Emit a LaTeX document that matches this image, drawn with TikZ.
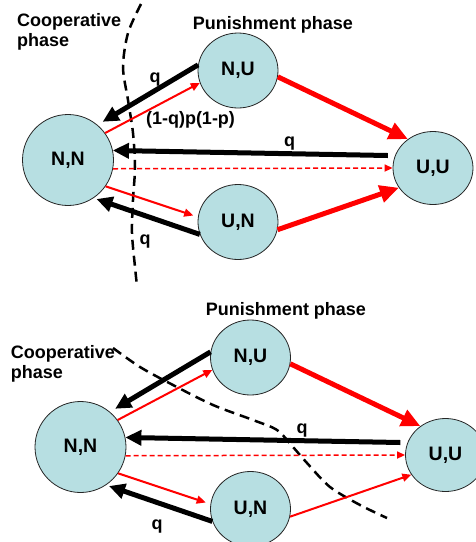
\documentclass[tikz,border=0pt]{standalone}
\usepackage{fontspec}
\setmainfont{Liberation Sans}
\usetikzlibrary{arrows.meta,shapes.geometric}
\definecolor{stateblue}{RGB}{183,223,226}
\definecolor{dfred}{RGB}{255,0,0}
\tikzstyle{state} = [ellipse, draw=black!85, line width=0.8pt, fill=stateblue, minimum width=80pt, minimum height=75pt, inner sep=0pt, font=\fontsize{19.5}{21}\selectfont\bfseries]
\tikzstyle{bigstate} = [state, minimum width=91pt, minimum height=91pt]
\tikzstyle{back} = [line width=5pt, black, -{Triangle[length=16pt,width=15pt]}]
\tikzstyle{punish} = [line width=5pt, dfred, -{Triangle[length=19pt,width=17pt]}]
\tikzstyle{move} = [line width=2pt, dfred, -{Triangle[length=9pt,width=8pt]}]
\tikzstyle{stay} = [line width=1.5pt, dfred, dash pattern=on 5pt off 3pt, -{Triangle[length=8pt,width=7pt]}]
\tikzstyle{border} = [line width=2.5pt, dash pattern=on 10pt off 6pt]
\tikzstyle{lbl} = [font=\fontsize{18}{20}\selectfont\bfseries, inner sep=0pt]

\begin{document}
\begin{tikzpicture}[x=1pt, y=-1pt]
    \useasboundingbox (0,0) rectangle (475,542);

    % Top: phase border
    \draw[border] plot[smooth] coordinates {(141,4) (128,33) (123,67) (128,100) (133,133) (135,167) (133,200) (132,233) (135,267) (137,286)};

    % Top: states
    \node[bigstate] (nn) at (68,160) {N,N};
    \node[state] (nu) at (238,70.5) {N,U};
    \node[state] (un) at (238,222) {U,N};
    \node[state, minimum height=73pt] (uu) at (433,168) {U,U};

    % Top: transitions
    \draw[back, shorten >=6pt] (nu.172) -- (nn.50);
    \draw[move] (nn.36) -- (nu.198);
    \draw[back, shorten <=7pt] (uu.162) -- (nn.12);
    \draw[stay] (nn.-11) -- (uu.west);
    \draw[move, shorten >=5pt] (nn.-35) -- (un.173);
    \draw[back, shorten >=3pt] (un.198) -- (nn.-56);
    \draw[punish] (nu.-9.5) -- (uu.131);
    \draw[punish] (un.-11.6) -- (uu.210);

    % Top: labels
    \node[lbl, anchor=base west, align=left] (coop) at (17,46.7) {Cooperative\\phase};
    \node[lbl, anchor=base] (pun) at (273,29) {Punishment phase};
    \node[lbl] (qa) at (155,79.5) {q};
    \node[lbl] (prob) at (190.5,120) {(1-q)p(1-p)};
    \node[lbl] (qb) at (289.5,144) {q};
    \node[lbl] (qc) at (145,241.5) {q};

    % Bottom: phase border
    \draw[border] plot[smooth] coordinates {(113,348) (140,367) (173,385) (213,405) (253,420) (277,430) (293,447) (307,463) (330,487) (360,505) (387,518)};

    % Bottom: states
    \node[bigstate] (nn2) at (80.5,447) {N,N};
    \node[state] (nu2) at (250.5,357.5) {N,U};
    \node[state] (un2) at (250.5,509) {U,N};
    \node[state, minimum height=73pt] (uu2) at (445.5,455) {U,U};

    % Bottom: transitions
    \draw[back, shorten >=6pt] (nu2.172) -- (nn2.50);
    \draw[move] (nn2.36) -- (nu2.198);
    \draw[back, shorten <=7pt] (uu2.162) -- (nn2.12);
    \draw[stay] (nn2.-11) -- (uu2.west);
    \draw[move, shorten >=5pt] (nn2.-35) -- (un2.173);
    \draw[back, shorten >=3pt] (un2.198) -- (nn2.-56);
    \draw[punish] (nu2.-9.5) -- (uu2.131);
    \draw[move] (un2.-11.6) -- (uu2.210);

    % Bottom: labels
    \node[lbl, anchor=base west, align=left] (coop2) at (10.7,378) {Cooperative\\phase};
    \node[lbl, anchor=base] (pun2) at (286,315) {Punishment phase};
    \node[lbl] (qd) at (302,431) {q};
    \node[lbl] (qe) at (157,526.5) {q};
\end{tikzpicture}
\end{document}
